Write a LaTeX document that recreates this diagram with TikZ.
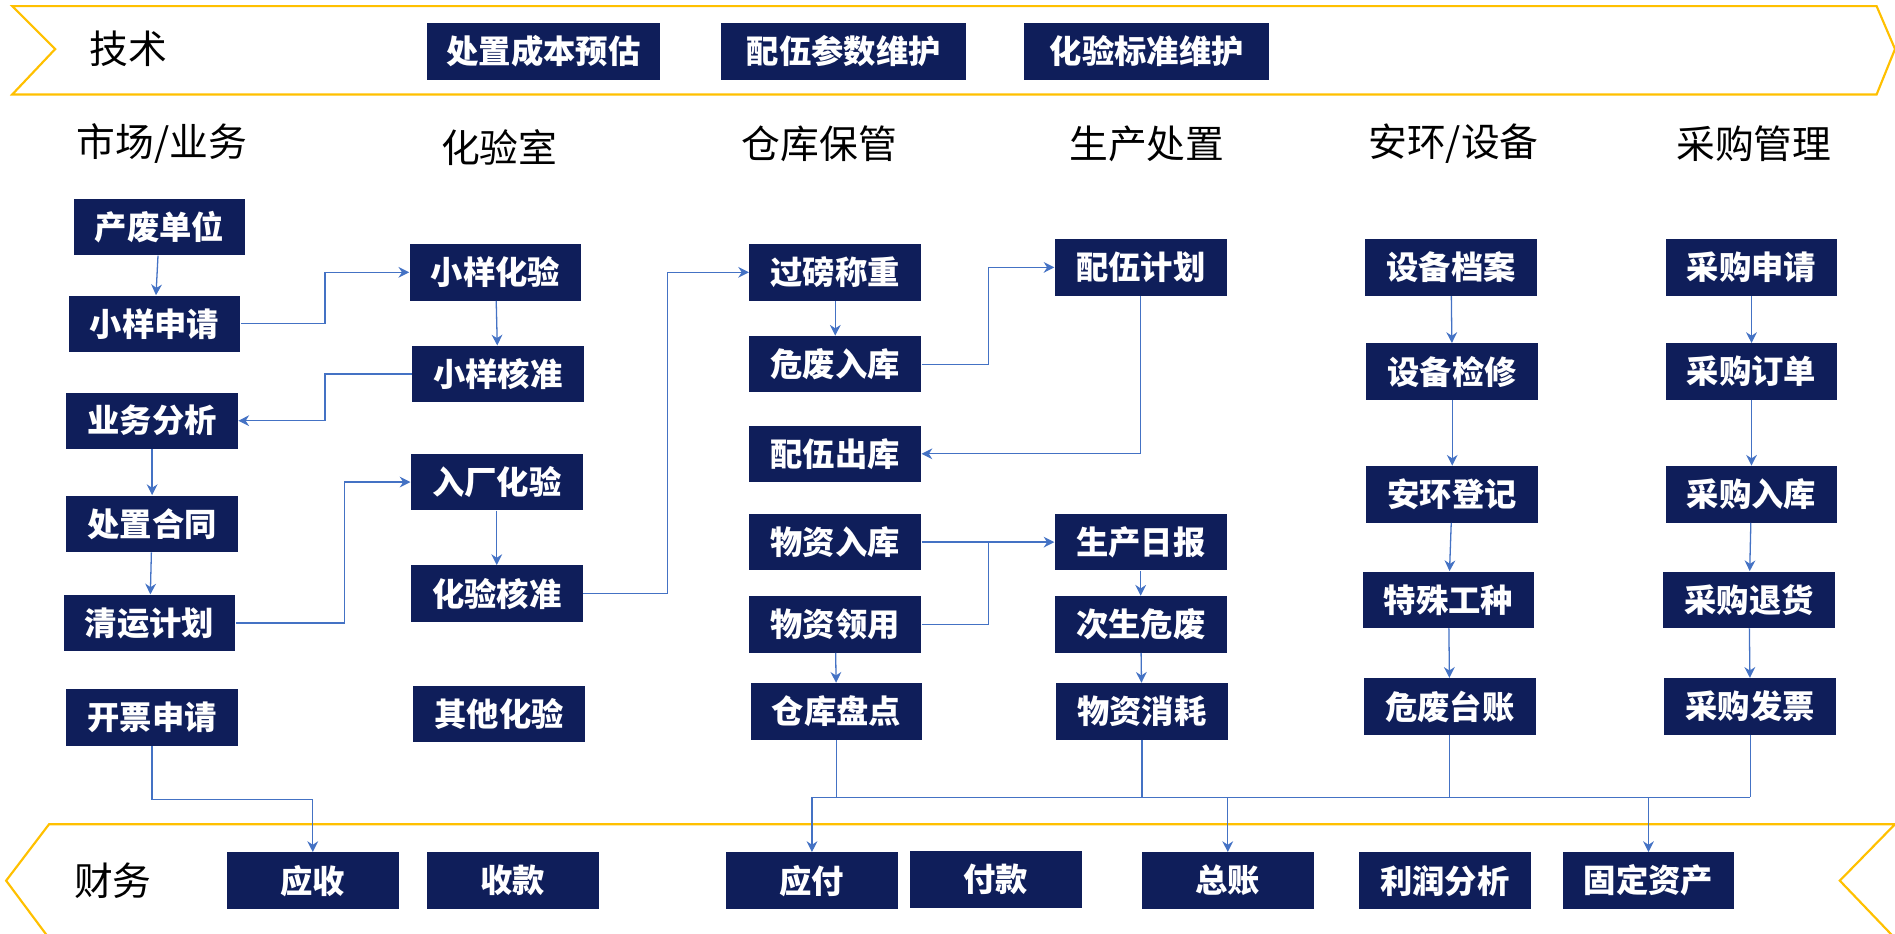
\documentclass[tikz,border=0pt]{standalone}
\usepackage{fontspec}
\setmainfont{Noto Sans CJK SC}
\usetikzlibrary{arrows.meta}
\definecolor{navy}{HTML}{0F1E5A}
\definecolor{link}{HTML}{4472C4}
\definecolor{band}{HTML}{FFC000}
\tikzset{
  mod/.style={fill=navy,text=white,font=\fontsize{15}{17}\selectfont\bfseries,minimum width=2.8cm,minimum height=0.92cm,inner sep=0pt},
  head/.style={font=\fontsize{18}{20}\selectfont},
  flow/.style={draw=link,line width=0.6pt,-{Stealth[length=5pt,width=5pt]}},
  bus/.style={draw=link,line width=0.6pt}
}
\begin{document}
\begin{tikzpicture}[x=0.02cm,y=-0.02cm]
\useasboundingbox (0,0) rectangle (1545,761);
% bands
\draw [band,line width=1pt] (10,5) -- (1530,5) -- (1545,40) -- (1530,77) -- (10,77) -- (45,40) -- cycle;
\draw [band,line width=1pt] (1545,672) -- (40,672) -- (5,718) -- (40,765) -- (1545,765) -- (1500,718) -- cycle;
\node [head] (tech) at (105,40) {技术};
\node [head] (fin) at (92,718) {财务};
\node [mod,minimum width=3.8cm] (cost) at (443,42) {处置成本预估};
\node [mod,minimum width=4cm] (param) at (688,42) {配伍参数维护};
\node [mod,minimum width=4cm] (std) at (935,42) {化验标准维护};
% column heads
\node [head] (h1) at (132,117) {市场/业务};
\node [head] (h2) at (407,120) {化验室};
\node [head] (h3) at (668,117) {仓库保管};
\node [head] (h4) at (935,117) {生产处置};
\node [head] (h5) at (1185,117) {安环/设备};
\node [head] (h6) at (1430,117) {采购管理};
% market
\node [mod] (waste) at (130,185) {产废单位};
\node [mod] (sreq) at (126,264) {小样申请};
\node [mod] (anal) at (124,343) {业务分析};
\node [mod] (contr) at (124,427) {处置合同};
\node [mod] (plan) at (122,508) {清运计划};
\node [mod] (inv) at (124,585) {开票申请};
% lab
\node [mod] (stest) at (404,222) {小样化验};
\node [mod] (sappr) at (406,305) {小样核准};
\node [mod] (ftest) at (405,393) {入厂化验};
\node [mod] (tappr) at (405,484) {化验核准};
\node [mod] (otest) at (407,582) {其他化验};
% store
\node [mod] (weigh) at (681,222) {过磅称重};
\node [mod] (hwin) at (681,297) {危废入库};
\node [mod] (mixout) at (681,370) {配伍出库};
\node [mod] (matin) at (681,442) {物资入库};
\node [mod] (matuse) at (681,509) {物资领用};
\node [mod] (count) at (682,580) {仓库盘点};
% production
\node [mod] (mixplan) at (930,218) {配伍计划};
\node [mod] (daily) at (930,442) {生产日报};
\node [mod] (second) at (930,509) {次生危废};
\node [mod] (cons) at (931,580) {物资消耗};
% safety
\node [mod] (equip) at (1183,218) {设备档案};
\node [mod] (repair) at (1184,303) {设备检修};
\node [mod] (safe) at (1184,403) {安环登记};
\node [mod] (work) at (1181,489) {特殊工种};
\node [mod] (ledger) at (1182,576) {危废台账};
% purchase
\node [mod] (preq) at (1428,218) {采购申请};
\node [mod] (order) at (1428,303) {采购订单};
\node [mod] (pin) at (1428,403) {采购入库};
\node [mod] (pret) at (1426,489) {采购退货};
\node [mod] (pinv) at (1427,576) {采购发票};
% finance
\node [mod] (recv) at (255,718) {应收};
\node [mod] (coll) at (418,718) {收款};
\node [mod] (pay) at (662,718) {应付};
\node [mod] (paid) at (812,717) {付款};
\node [mod] (gl) at (1001,718) {总账};
\node [mod] (profit) at (1178,718) {利润分析};
\node [mod] (asset) at (1344,718) {固定资产};
% links
\draw [flow] (waste) -- (sreq);
\draw [flow] (sreq.east) -- (265,264) |- (stest.west);
\draw [flow] (stest) -- (sappr);
\draw [flow] (sappr.west) -- (265,305) |- (anal.east);
\draw [flow] (anal) -- (contr);
\draw [flow] (contr) -- (plan);
\draw [flow] (plan.east) -- (281,508) |- (ftest.west);
\draw [flow] (ftest) -- (tappr);
\draw [flow] (tappr.east) -- (544,484) |- (weigh.west);
\draw [flow] (weigh) -- (hwin);
\draw [flow] (hwin.east) -- (806,297) |- (mixplan.west);
\draw [flow] (mixplan.south) |- (mixout.east);
\draw [flow] (matin) -- (daily);
\draw [bus] (matuse.east) -- (806,509) -- (806,442);
\draw [flow] (daily) -- (second);
\draw [flow] (second) -- (cons);
\draw [flow] (matuse) -- (count);
\draw [flow] (equip) -- (repair);
\draw [flow] (repair) -- (safe);
\draw [flow] (safe) -- (work);
\draw [flow] (work) -- (ledger);
\draw [flow] (preq) -- (order);
\draw [flow] (order) -- (pin);
\draw [flow] (pin) -- (pret);
\draw [flow] (pret) -- (pinv);
\draw [flow] (inv.south) -- (124,652) -| (recv.north);
% finance bus
\coordinate (b1) at (662,650);
\coordinate (b2) at (1427,650);
\draw [bus] (count.south) |- (b1);
\draw [bus] (cons.south) -- (931,650);
\draw [bus] (ledger.south) -- (1182,650);
\draw [bus] (pinv.south) -- (b2);
\draw [bus] (b1) -- (b2);
\draw [flow] (b1) -- (pay.north);
\draw [flow] (1001,650) -- (gl.north);
\draw [flow] (1344,650) -- (asset.north);
\end{tikzpicture}
\end{document}
